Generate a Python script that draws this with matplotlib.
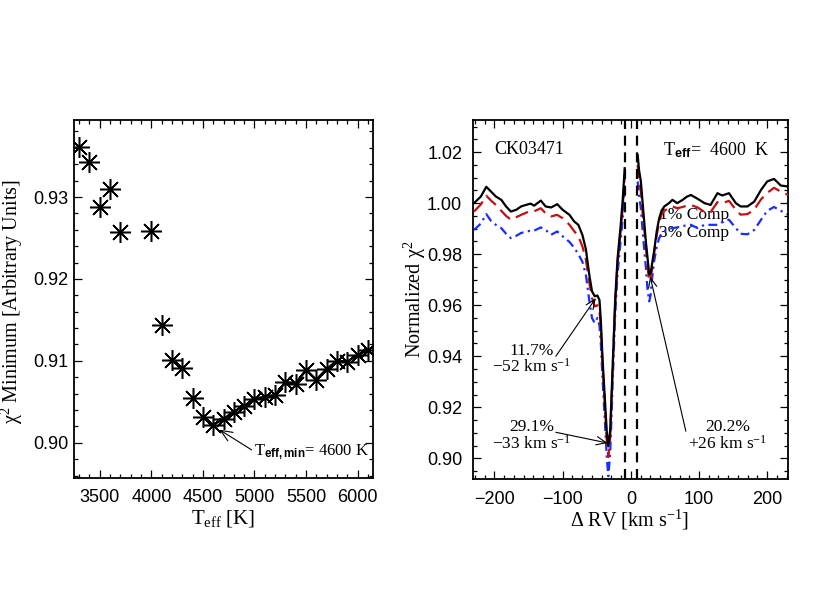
import matplotlib
matplotlib.use('Agg')
import matplotlib.pyplot as plt
from matplotlib.ticker import MultipleLocator, AutoMinorLocator, FormatStrFormatter

plt.rcParams['font.family'] = ['Liberation Serif', 'DejaVu Serif']
plt.rcParams['mathtext.fontset'] = 'custom'
plt.rcParams['mathtext.rm'] = 'Liberation Serif'
plt.rcParams['mathtext.it'] = 'Liberation Serif:italic'
plt.rcParams['mathtext.sf'] = 'Liberation Sans:bold'

# left panel: chi^2 minimum vs Teff
teff = [3300, 3400, 3500, 3600, 3700, 4000, 4100, 4200, 4300, 4400, 4500,
        4600, 4700, 4800, 4900, 5000, 5100, 5200, 5300, 5400, 5500, 5600,
        5700, 5800, 5900, 6000, 6100]
chi2_min = [0.9361, 0.9343, 0.9288, 0.9310, 0.9257, 0.9259, 0.9144, 0.9101,
            0.9091, 0.9055, 0.9031, 0.9022, 0.9029, 0.9038, 0.9045, 0.9053,
            0.9056, 0.9058, 0.9074, 0.9072, 0.9089, 0.9077, 0.9090, 0.9100,
            0.9099, 0.9107, 0.9113]
teff_best = 4600

# right panel: normalized chi^2 vs delta RV
rv_left = [-230, -220, -212, -205, -198, -190, -183, -176, -168, -161, -154,
           -147, -142, -132, -125, -117, -108, -100, -90, -83, -77, -71, -66,
           -61, -57, -53, -49, -46, -44, -41.5, -38, -35.2, -33, -30.3, -28,
           -25.4, -23, -19.6, -15, -12, -9]
black_left = [1.000, 1.0026, 1.0064, 1.0045, 1.0026, 1.0013, 0.9987, 0.9967,
              0.9974, 0.9987, 0.9993, 0.9998, 0.9990, 1.0010, 0.9987, 0.9983,
              0.9996, 0.9974, 0.9954, 0.9928, 0.9915, 0.9875, 0.982, 0.972,
              0.9655, 0.9635, 0.9638, 0.962, 0.954, 0.939, 0.923, 0.910,
              0.9047, 0.911, 0.927, 0.945, 0.962, 0.978, 0.991, 1.001, 1.0137]
red_left = [0.9967, 0.9995, 1.0029, 1.001, 0.9993, 0.997, 0.995, 0.9935,
            0.9945, 0.9954, 0.9962, 0.997, 0.9968, 0.998, 0.996, 0.9948,
            0.9954, 0.9941, 0.9915, 0.989, 0.987, 0.983, 0.978, 0.969, 0.963,
            0.9595, 0.960, 0.958, 0.951, 0.936, 0.920, 0.906, 0.9005, 0.908,
            0.925, 0.944, 0.960, 0.976, 0.989, 0.998, 1.011]
blue_left = [0.9895, 0.992, 0.9957, 0.993, 0.9915, 0.9902, 0.988, 0.9863,
             0.9872, 0.9883, 0.9888, 0.9892, 0.9892, 0.9905, 0.9895, 0.9876,
             0.9889, 0.987, 0.9848, 0.9825, 0.980, 0.977, 0.972, 0.962, 0.955,
             0.953, 0.955, 0.952, 0.945, 0.931, 0.914, 0.900, 0.893, 0.902,
             0.919, 0.939, 0.956, 0.972, 0.985, 0.994, 1.006]

rv_right = [10, 12, 14.7, 17, 19.6, 22, 24.5, 27, 29, 31, 34, 38, 41.6, 45,
            49, 56, 61, 68, 76, 82, 88, 98, 108, 117, 127, 134, 144, 154, 161,
            171, 181, 191, 200, 210, 220, 231]
black_right = [1.0189, 1.013, 1.0085, 1.001, 0.9928, 0.985, 0.9785, 0.972,
               0.9725, 0.976, 0.981, 0.989, 0.9941, 0.997, 0.9987, 1.000,
               1.0013, 1.000, 1.0013, 1.0025, 1.0032, 1.0017, 1.000, 0.9993,
               1.0039, 1.003, 1.0039, 1.000, 0.9987, 0.9987, 1.0006, 1.0052,
               1.0085, 1.0095, 1.0069, 1.0065]
red_right = [1.015, 1.009, 1.0045, 0.997, 0.990, 0.983, 0.975, 0.9693, 0.970,
             0.974, 0.980, 0.9875, 0.9925, 0.9955, 0.997, 0.998, 0.9987,
             0.998, 0.9985, 0.999, 0.9993, 0.9983, 0.9965, 0.9965, 1.0004,
             1.000, 1.0009, 0.9974, 0.9955, 0.9957, 0.9975, 1.0015, 1.004,
             1.006, 1.0045, 1.0032]
blue_right = [1.0085, 1.003, 0.998, 0.990, 0.982, 0.975, 0.966, 0.9615,
              0.964, 0.970, 0.977, 0.983, 0.9863, 0.988, 0.9889, 0.990,
              0.9902, 0.9905, 0.991, 0.9913, 0.9915, 0.9902, 0.9915, 0.9915,
              0.9915, 0.9925, 0.9935, 0.9902, 0.988, 0.9878, 0.9895, 0.9935,
              0.997, 0.9985, 0.997, 0.9954]
vlines = [-8.5, 9.7]

red_c = '#c41010'
blue_c = '#1a2cff'


def style_axis(ax):
    ax.tick_params(which='both', direction='in', top=True, right=True,
                   width=0.9, colors='black')
    ax.tick_params(which='major', length=5.5)
    ax.tick_params(which='minor', length=2.8)
    for s in ax.spines.values():
        s.set_linewidth(1.3)
    for lab in ax.get_xticklabels() + ax.get_yticklabels():
        lab.set_fontfamily('Liberation Sans')
        lab.set_fontsize(13)


fig = plt.figure(figsize=(8.3, 6), dpi=100)

# ---- left panel ----
ax1 = fig.add_axes([0.0892, 0.2033, 0.3602, 0.5967])
i0 = teff.index(teff_best)
ax1.plot(teff[i0:], chi2_min[i0:], color='black', lw=1.8, zorder=2)
ax1.plot(teff, chi2_min, linestyle='none', marker=(8, 2, 0), ms=15, mew=1.1,
         color='black', zorder=3)
ax1.plot(teff, chi2_min, linestyle='none', marker='o', ms=3, color='black',
         zorder=4)
ax1.set_xlim(3250, 6150)
ax1.set_ylim(0.8957, 0.9394)
ax1.xaxis.set_major_locator(MultipleLocator(500))
ax1.xaxis.set_minor_locator(MultipleLocator(100))
ax1.yaxis.set_major_locator(MultipleLocator(0.01))
ax1.yaxis.set_minor_locator(MultipleLocator(0.002))
ax1.yaxis.set_major_formatter(FormatStrFormatter('%.2f'))
ax1.tick_params(axis='x', pad=8)
ax1.tick_params(axis='y', pad=4)
style_axis(ax1)
ax1.set_ylabel(r'χ$^{2}$ Minimum [Arbitrary Units]', fontsize=14.5)
ax1.yaxis.set_label_coords(-0.165, 0.493)
ax1.set_xlabel(r'T$_{\mathrm{eff}}$ [K]', fontsize=15)
ax1.xaxis.set_label_coords(0.5, -0.085)
ax1.annotate(r'T$_{\mathsf{eff,min}}$= 4600 K', xy=(4660, 0.9016),
             xytext=(5000, 0.8988), fontsize=12, ha='left', va='center',
             arrowprops=dict(arrowstyle='->,head_length=0.7,head_width=0.3',
                             lw=0.8, color='black', relpos=(0, 0.55),
                             shrinkA=0, shrinkB=0))

# ---- right panel ----
ax2 = fig.add_axes([0.5703, 0.2017, 0.3795, 0.5988])
ax2.plot(rv_left, blue_left, color=blue_c, lw=1.6, linestyle=(0, (4, 2, 1, 2)), zorder=2)
ax2.plot(rv_right, blue_right, color=blue_c, lw=1.6, linestyle=(0, (4, 2, 1, 2)), zorder=2)
ax2.plot(rv_left, red_left, color=red_c, lw=1.6, linestyle=(0, (6, 3)), zorder=3)
ax2.plot(rv_right, red_right, color=red_c, lw=1.6, linestyle=(0, (6, 3)), zorder=3)
ax2.plot(rv_left, black_left, color='black', lw=1.6, zorder=4)
ax2.plot(rv_right, black_right, color='black', lw=1.6, zorder=4)
for v in vlines:
    ax2.axvline(v, color='black', lw=1.6, linestyle=(0, (4.5, 3)), zorder=5)
ax2.set_xlim(-231, 231)
ax2.set_ylim(0.8919, 1.0327)
ax2.xaxis.set_major_locator(MultipleLocator(100))
ax2.xaxis.set_minor_locator(AutoMinorLocator(7))
ax2.yaxis.set_major_locator(MultipleLocator(0.02))
ax2.yaxis.set_minor_locator(MultipleLocator(0.005))
ax2.yaxis.set_major_formatter(FormatStrFormatter('%.2f'))
ax2.tick_params(axis='x', pad=9)
ax2.tick_params(axis='y', pad=8)
style_axis(ax2)
ax2.set_ylabel(r'Normalized χ$^{2}$', fontsize=14.5)
ax2.yaxis.set_label_coords(-0.145, 0.5)
ax2.set_xlabel(r'Δ RV [km s$^{-1}$]', fontsize=14.5)
ax2.xaxis.set_label_coords(0.495, -0.08)

ax2.text(-201, 1.0209, 'CK03471', fontsize=13, ha='left', va='center')
ax2.text(202, 1.0209, r'T$_{\mathsf{eff}}$=  4600  K', fontsize=13,
         ha='right', va='center')
ax2.text(41, 0.9952, '1% Comp', fontsize=12.5, ha='left', va='center', zorder=1)
ax2.text(41, 0.9883, '3% Comp', fontsize=12.5, ha='left', va='center', zorder=1)

arrow = dict(arrowstyle='->,head_length=0.7,head_width=0.3', lw=0.8,
             color='black', shrinkA=0, shrinkB=0)
ax2.text(-145, 0.9388, '11.7%\n' + r'−52 km s$^{-1}$', fontsize=12.5,
         ha='center', va='center', linespacing=0.95)
ax2.annotate('', xy=(-51.3, 0.9628), xytext=(-110, 0.940), arrowprops=arrow)
ax2.text(-145, 0.9089, '29.1%\n' + r'−33 km s$^{-1}$', fontsize=12.5,
         ha='center', va='center', linespacing=0.95)
ax2.annotate('', xy=(-34.2, 0.906), xytext=(-110, 0.9102), arrowprops=arrow)
ax2.text(142, 0.9089, '20.2%\n' + r'+26 km s$^{-1}$', fontsize=12.5,
         ha='center', va='center', linespacing=0.95)
ax2.annotate('', xy=(28.3, 0.9713), xytext=(80.7, 0.9106), arrowprops=arrow)

fig.savefig('out.png', dpi=100)
